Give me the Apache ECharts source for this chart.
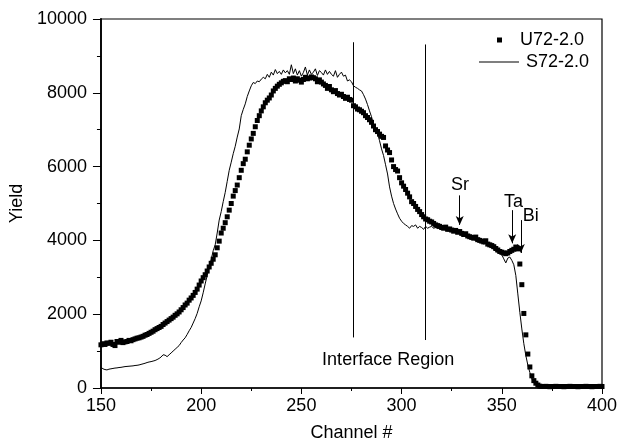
<!DOCTYPE html>
<html><head><meta charset="utf-8">
<script src="https://cdn.jsdelivr.net/npm/echarts@6/dist/echarts.min.js"></script>
<style>html,body{margin:0;padding:0;background:#fff}#c{width:621px;height:447px}</style>
</head><body><div id="c"></div>
<script>
const startChannel = 150;
const xTicks = [150, 200, 250, 300, 350, 400];
const yTicks = [0, 2000, 4000, 6000, 8000, 10000];
const seriesNames = ['U72-2.0', 'S72-2.0'];
const u72 = [
1170,1200,1180,1220,1210,1240,1180,1150,1260,1240,
1290,1230,1250,1260,1290,1280,1310,1330,1350,1360,
1380,1400,1430,1450,1480,1510,1540,1580,1610,1640,
1670,1720,1760,1800,1840,1880,1920,1970,2010,2060,
2120,2180,2250,2300,2380,2440,2510,2590,2680,2790,
2900,2990,3070,3170,3280,3380,3490,3610,3800,3980,
4200,4330,4480,4640,4820,5000,5200,5350,5500,5700,
5900,6080,6200,6400,6580,6750,6900,7080,7250,7380,
7510,7620,7730,7800,7860,7940,8050,8120,8180,8230,
8270,8310,8330,8300,8380,8360,8400,8320,8380,8340,
8290,8360,8420,8380,8400,8430,8410,8380,8300,8350,
8290,8240,8200,8120,8170,8080,8030,8060,7980,7940,
7960,7900,7850,7880,7820,7800,7650,7620,7560,7540,
7500,7460,7380,7330,7270,7200,7100,7000,6950,6880,
6820,6790,6560,6450,6380,6180,6000,5920,5880,5700,
5560,5470,5380,5280,5180,5050,5000,4920,4840,4780,
4700,4640,4580,4560,4520,4500,4460,4420,4400,4380,
4350,4330,4360,4300,4310,4280,4250,4270,4220,4240,
4190,4160,4180,4120,4100,4080,4060,4090,4020,4000,
3980,3960,3990,3900,3880,3860,3830,3780,3740,3700,
3680,3660,3640,3660,3700,3730,3760,3820,3770,3360,
2800,2020,1440,920,570,330,200,130,80,50,
40,40,45,40,35,40,40,45,40,40,
40,35,40,40,45,40,40,40,35,40,
40,40,45,40,40,35,40,40,40,45,40
];
const s72 = [
565,520,500,490,510,520,530,540,545,555,
560,570,580,585,590,595,600,610,615,625,
640,655,670,690,705,715,730,745,770,800,
840,900,890,850,900,950,1000,1050,1100,1150,
1230,1300,1360,1450,1550,1640,1760,1880,2020,2200,
2360,2580,2820,3050,3280,3480,3720,3880,4200,4550,
4780,5050,5300,5600,5900,6120,6350,6550,6800,7020,
7380,7550,7700,7900,8050,8190,8280,8250,8320,8300,
8370,8420,8380,8500,8420,8560,8480,8630,8520,8580,
8500,8620,8540,8600,8500,8760,8520,8650,8480,8600,
8450,8550,8700,8480,8620,8500,8560,8650,8470,8600,
8550,8480,8620,8500,8580,8500,8450,8600,8420,8500,
8560,8450,8480,8320,8350,8300,8190,8150,8120,8080,
8050,7950,7830,7680,7510,7350,7150,7020,6900,6700,
6480,6300,6050,5800,5450,5200,5000,4850,4720,4600,
4520,4460,4420,4380,4330,4400,4380,4420,4330,4380,
4350,4300,4380,4330,4360,4380,4330,4350,4320,4340,
4300,4320,4280,4300,4260,4280,4230,4250,4200,4190,
4170,4150,4120,4080,4100,4050,4030,3990,4010,3960,
3940,3900,3920,3860,3830,3790,3760,3700,3680,3640,
3610,3500,3390,3520,3550,3460,3340,3050,2550,2050,
1600,1200,880,620,420,250,150,90,60,40,
25,15,10,10,10,10,10,10,10,10,
10,10,10,10,10,10,10,10,10,10,
10,10,10,10,10,10,10,10,10,10,10
];
// annotations (data coordinates)
const interfaceLineX = [276, 312];
const interfaceLineTop = [9370, 9310];
const interfaceLineBottom = [1370, 1300];
const arrowNames = ['Sr', 'Ta', 'Bi'];
const arrowX = [329, 355.2, 359.5];
const arrowTop = [5220, 4820, 4550];
const arrowTip = [4420, 3920, 3660];
const labelX = [329.1, 355.9, 364.4];
const labelY = [5490, 5040, 4650];
const regionLabel = 'Interface Region';
const regionLabelPos = [293.3, 750];

const FONT = "'Liberation Sans', Arial, Helvetica, sans-serif";
const toPairs = arr => arr.map((v, i) => [startChannel + i, v]);

const chart = echarts.init(document.getElementById('c'), null, {renderer: 'canvas'});
const txt = {color: '#000', fontFamily: FONT, fontSize: 18};

const markLines = [];
interfaceLineX.forEach((x, i) => markLines.push([
  {coord: [x, interfaceLineTop[i]], symbol: 'none'},
  {coord: [x, interfaceLineBottom[i]], symbol: 'none'}
]));
arrowX.forEach((x, i) => markLines.push([
  {coord: [x, arrowTop[i]], symbol: 'none'},
  {coord: [x, arrowTip[i]], symbol: 'arrow', symbolSize: [6, 9]}
]));
const markPoints = arrowNames.map((n, i) => ({coord: [labelX[i], labelY[i]], name: n, value: n}));
markPoints.push({coord: regionLabelPos, name: regionLabel, value: regionLabel});

chart.setOption({
  animation: false,
  backgroundColor: '#fff',
  grid: {left: 100, right: 19, top: 19, bottom: 56, show: true, borderColor: '#000', borderWidth: 1.2},
  xAxis: {
    type: 'value', min: xTicks[0], max: xTicks[xTicks.length - 1], interval: 50,
    name: 'Channel #', nameLocation: 'middle', nameGap: 36, nameTextStyle: txt,
    axisLine: {lineStyle: {color: '#000', width: 1.5}},
    axisTick: {length: 6, lineStyle: {color: '#000', width: 1}},
    minorTick: {show: true, splitNumber: 2, length: 3, lineStyle: {color: '#000', width: 1}},
    axisLabel: Object.assign({margin: 9, formatter: v => String(v)}, txt),
    splitLine: {show: false}
  },
  yAxis: {
    type: 'value', min: yTicks[0], max: yTicks[yTicks.length - 1], interval: 2000,
    name: 'Yield', nameLocation: 'middle', nameGap: 72, nameTextStyle: txt,
    axisLine: {show: true, lineStyle: {color: '#000', width: 1.8}},
    axisTick: {show: true, length: 8, lineStyle: {color: '#000', width: 1}},
    minorTick: {show: true, splitNumber: 2, length: 4, lineStyle: {color: '#000', width: 1}},
    axisLabel: Object.assign({margin: 14, formatter: v => String(v)}, txt),
    splitLine: {show: false}
  },
  legend: [
    {data: [{name: seriesNames[0], icon: 'rect'}], left: 497, top: 31, padding: 0, itemWidth: 5, itemHeight: 5,
     textStyle: Object.assign({padding: [0, 0, 0, 13]}, txt), selectedMode: false},
    {data: [{name: seriesNames[1], icon: 'rect'}], left: 479, top: 53, padding: 0, itemWidth: 40, itemHeight: 1,
     textStyle: Object.assign({padding: [0, 0, 0, 2]}, txt), selectedMode: false}
  ],
  series: [
    {name: seriesNames[0], type: 'scatter', data: toPairs(u72), symbol: 'rect', symbolSize: 5,
     itemStyle: {color: '#000', opacity: 1}, z: 3},
    {name: seriesNames[1], type: 'line', data: toPairs(s72), symbol: 'none', showSymbol: false,
     lineStyle: {color: '#000', width: 1}, itemStyle: {color: '#000'}, z: 4,
     markLine: {silent: true, symbol: 'none', animation: false, lineStyle: {color: '#000', width: 1, type: 'solid'},
       label: {show: false}, emphasis: {disabled: true}, data: markLines},
     markPoint: {silent: true, symbol: 'rect', symbolSize: 0, itemStyle: {color: 'transparent'},
       label: Object.assign({show: true, position: 'inside', formatter: p => p.name}, txt),
       data: markPoints}
    }
  ]
});
</script></body></html>
